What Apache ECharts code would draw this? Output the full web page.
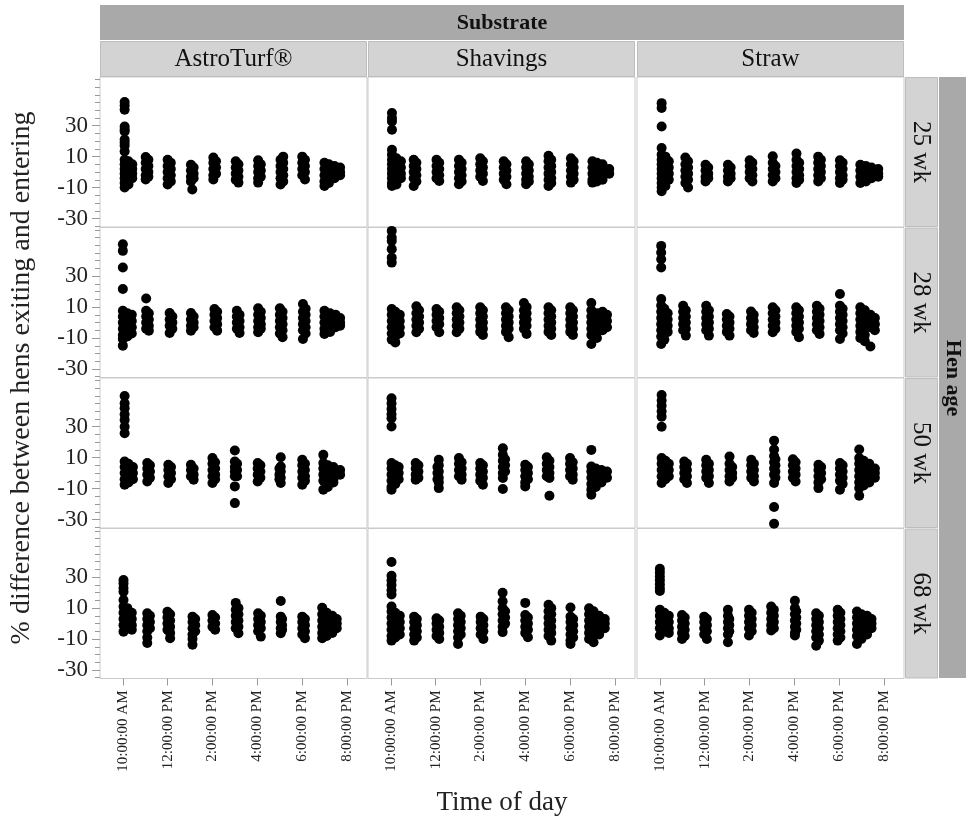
<!DOCTYPE html>
<html><head><meta charset="utf-8">
<script src="https://cdn.jsdelivr.net/npm/echarts@6/dist/echarts.min.js"></script>
<style>html,body{margin:0;padding:0;background:#fff}#c{width:966px;height:821px}</style>
</head><body><div id="c"></div>
<script>
const substrates = ['AstroTurf®', 'Shavings', 'Straw'];
const henAges = ['25 wk', '28 wk', '50 wk', '68 wk'];
const timeTicks = [10, 12, 14, 16, 18, 20];
const timeLabels = ['10:00:00 AM', '12:00:00 PM', '2:00:00 PM', '4:00:00 PM', '6:00:00 PM', '8:00:00 PM'];
const yLabelValues = [-30, -10, 10, 30];
const yMinorValues = [-35, -30, -25, -20, -15, -10, -5, 0, 5, 10, 15, 20, 25, 30, 35, 40, 45, 50, 55, 60];

// [time of day (hours), [% difference values]]
const astro25 = [
  [10.08, [45.3, 43, 40.3, 29.5, 27.5, 26.3, 21, 19, 17, 13.4, 8, 5, 2, -1, -4, -7, -10]],
  [10.25, [7, 4, 1, -2, -5, -8]], [10.42, [5, 2, -1, -4]],
  [11.02, [9.8, 6, 2, -2, -4.8]], [11.14, [8, 4, 0, -3]],
  [12.0, [8, 4, 0, -4, -8]], [12.14, [6, 2, -2, -6]],
  [13.04, [4.8, 1, -3, -6]], [13.16, [3, -1, -4]], [13.1, [-11.3]],
  [14.04, [9.4, 6, 2, -2, -4.8]], [14.16, [7, 3, -1]],
  [15.04, [7, 3, -1, -5]], [15.16, [5, 1, -3, -6.8]],
  [16.04, [7.7, 4, 0, -4, -6.8]], [16.16, [5, 1, -3]],
  [17.04, [8, 4, 0, -4, -8]], [17.16, [10, 6, 2, -2, -6]],
  [18.01, [10, 6, 2, -2]], [18.13, [8, 4, 0, -4.8]],
  [19.0, [6, 2, -2, -6, -9]], [19.2, [5, 1, -3, -7]], [19.45, [4, 0, -4]], [19.7, [3, 0, -2]]
];
const shav25 = [
  [10.05, [38.2, 35, 32.8, 27.4, 14.5, 11.3, 8, 5, 2, -1, -4, -7, -9]],
  [10.25, [9, 6, 3, 0, -3, -6, -8]], [10.45, [7, 3, -1, -4]],
  [11.02, [8, 4, 0, -4, -9]], [11.14, [6, 2, -2, -6]],
  [12.04, [8, 4, 0, -4]], [12.16, [6, 2, -2, -5.8]],
  [13.04, [8, 4, 0, -4, -7.8]], [13.16, [6, 2, -2, -6]],
  [13.99, [9, 5, 1, -3]], [14.11, [7, 3, -1, -5.8]],
  [15.04, [7, 3, -1, -5]], [15.16, [5, 1, -3, -7.8]],
  [16.04, [7, 3, -1, -5, -7.8]], [16.16, [5, 1, -3, -6]],
  [17.04, [10.6, 7, 3, -1, -5, -9]], [17.16, [8, 4, 0, -4, -7]],
  [18.04, [9, 5, 1, -3, -6.8]], [18.16, [7, 3, -1, -5]],
  [19.0, [7, 3, -1, -5, -6.8]], [19.2, [6, 2, -2, -6]], [19.45, [5, 1, -3, -5]], [19.75, [2, -1]]
];
const straw25 = [
  [10.08, [44.6, 41.4, 29.5, 15.6, 11.3, 8, 5, 2, -1, -4, -7, -10, -12.4]],
  [10.25, [10, 6, 2, -2, -6, -9]], [10.4, [7, 3, -1, -5]],
  [11.14, [9.4, 5, 1, -3, -7]], [11.26, [7, 3, -1, -5, -10]],
  [12.04, [4.8, 1, -3, -6]], [12.16, [3, -1, -4]],
  [13.04, [4.8, 1, -3, -6]], [13.16, [3, -1, -4]],
  [14.01, [7.7, 4, 0, -4]], [14.13, [6, 2, -2, -6]],
  [15.04, [10.2, 6, 2, -2, -6]], [15.16, [4, 0, -4]],
  [16.1, [12, 8, 4, 0, -4, -7]], [16.22, [6, 2, -2, -5]],
  [17.07, [10, 6, 2, -2, -6]], [17.19, [8, 4, 0, -4]],
  [18.04, [7.7, 4, 0, -4, -7]], [18.16, [6, 2, -2, -5]],
  [18.95, [4.8, 1, -3, -7]], [19.2, [4, 0, -4, -6]], [19.45, [3, -1, -4]], [19.75, [2, -1, -3]]
];
const astro28 = [
  [10.0, [50.7, 46.4, 35.6, 21.7, 7.7, 4, 0, -4, -8, -10.6, -14.9]],
  [10.2, [6, 2, -2, -6, -9]], [10.4, [5, 1, -3, -7]],
  [11.04, [15.6, 7.7, 4, 0, -4]], [11.16, [6, 2, -2, -5.2]],
  [12.09, [6.2, 2, -2, -6.7]], [12.21, [4, 0, -4]],
  [13.04, [6.2, 2, -2, -5.2]], [13.16, [4, 0, -3]],
  [14.09, [8.8, 5, 1, -3]], [14.21, [7, 3, -1, -5.2]],
  [15.09, [7.7, 4, 0, -4]], [15.21, [5, 1, -3, -6.7]],
  [16.04, [9.3, 5, 1, -3, -6.2]], [16.16, [7, 3, -1, -4]],
  [17.01, [9.3, 5, 1, -3, -7]], [17.13, [7, 3, -1, -5, -9.4]],
  [18.04, [12, 7, 3, -1, -5, -10.6]], [18.16, [9, 5, 1, -3, -7]],
  [19.0, [7.7, 4, 0, -4, -7.3]], [19.25, [6, 2, -2, -6]], [19.5, [5, 1, -3]], [19.7, [3, 0, -2]]
];
const shav28 = [
  [10.04, [59.3, 55, 52.8, 47.5, 42, 38.8, 8.8, 5, 1, -3, -7, -11]],
  [10.2, [7, 3, -1, -5, -9, -12.8]], [10.4, [5, 1, -3, -7]],
  [11.14, [10.5, 6, 2, -2, -6.2]], [11.26, [8, 4, 0, -4]],
  [12.04, [8.8, 5, 1, -3]], [12.16, [7, 3, -1, -6.2]],
  [12.94, [9.9, 6, 2, -2, -6.2]], [13.06, [8, 4, 0, -4]],
  [13.99, [9.9, 6, 2, -2, -6]], [14.11, [8, 4, 0, -4, -8]],
  [15.14, [9.9, 6, 2, -2, -6]], [15.26, [8, 4, 0, -4, -9.4]],
  [15.94, [12.7, 8, 4, 0, -4]], [16.06, [10, 6, 2, -2, -7.3]],
  [17.04, [9.9, 6, 2, -2, -6]], [17.16, [8, 4, 0, -4, -8]],
  [18.01, [9.9, 6, 2, -2, -6]], [18.13, [8, 4, 0, -4, -8]],
  [18.95, [12.7, 8, 4, 0, -4, -8, -13.8]], [19.2, [6, 2, -2, -6, -10]], [19.45, [7, 3, -1, -5]], [19.65, [5, 1, -3]]
];
const straw28 = [
  [10.06, [49.6, 45.3, 41, 35.6, 15.2, 11, 7, 3, -1, -5, -9, -13.8]],
  [10.2, [9, 5, 1, -3, -7, -11]], [10.35, [6, 2, -2, -6]],
  [11.04, [10.9, 7, 3, -1, -5]], [11.16, [8, 4, 0, -4, -8.4]],
  [12.07, [10.9, 7, 3, -1, -5]], [12.19, [8, 4, 0, -4, -8.4]],
  [12.99, [5.6, 2, -2, -6]], [13.11, [4, 0, -4, -8.4]],
  [14.07, [7.2, 3, -1, -5]], [14.19, [5, 1, -3, -6.7]],
  [15.04, [9.9, 6, 2, -2, -6.2]], [15.16, [8, 4, 0, -4]],
  [16.09, [9.9, 6, 2, -2, -6]], [16.21, [8, 4, 0, -4, -9.4]],
  [17.01, [10.9, 7, 3, -1, -5]], [17.13, [9, 5, 1, -3, -7.3]],
  [18.04, [18.5, 10.9, 7, 3, -1, -5, -10.6]], [18.16, [9, 5, 1, -3, -7]],
  [18.95, [9.9, 6, 2, -2, -6, -10]], [19.15, [8, 4, 0, -4, -8, -12]], [19.4, [5, 1, -3, -15.4]], [19.6, [3, -1, -5]]
];
const astro50 = [
  [10.08, [49.9, 45.2, 42, 38, 34.4, 30, 25.8, 7.5, 4, 0, -4, -7.5]],
  [10.25, [6, 2, -2, -6]], [10.45, [4, 0, -4]],
  [11.09, [6.5, 3, -1, -5.4]], [11.21, [5, 1, -3]],
  [12.03, [5.4, 2, -2, -6.4]], [12.15, [4, 0, -4]],
  [13.04, [5.4, 2, -2]], [13.16, [3, -1, -4.3]],
  [14.0, [9.7, 6, 2, -2, -6.4]], [14.12, [7, 3, -1, -4]],
  [15.0, [14.6, 7.5, 4, 1, -2, -8.6, -19.4]], [15.1, [6, 2, -2]],
  [16.02, [6.5, 3, -1, -5.4]], [16.14, [5, 1, -3]],
  [17.05, [10.3, 4.3, 1, -3, -6.4]], [16.99, [3, -1, -4]],
  [18.01, [8.6, 5, 1, -3, -7.5]], [18.13, [6, 2, -2, -5]],
  [18.95, [11.8, 6.5, 3, -1, -5, -10.7]], [19.15, [5, 1, -3, -7, -9]], [19.4, [4, 0, -4, -6]], [19.7, [2, -1]]
];
const shav50 = [
  [10.03, [48.4, 45, 41.5, 38, 35.5, 30.1, 6.5, 3, -1, -5, -9, -10.7]],
  [10.2, [5, 1, -3, -7]], [10.35, [4, 0, -4]],
  [11.11, [6.5, 3, -1, -4.3]], [11.23, [5, 1, -3]],
  [12.14, [8.6, 5, 1, -3, -6, -9.7]], [12.08, [4, 0, -4]],
  [13.04, [9.7, 6, 2, -2]], [13.16, [7, 3, -1, -4.3]],
  [13.99, [6.5, 3, -1, -5]], [14.11, [5, 1, -3, -7.5]],
  [15.0, [16.1, 11.8, 8, 4, 0, -3.2, -10.3]], [15.1, [9, 5, 1]],
  [16.0, [5.4, 2, -2, -6, -8.6]], [16.12, [4, 0, -4]],
  [16.96, [10.3, 6, 2, -2]], [17.08, [8, 4, 0, -3.2, -14.6]],
  [18.0, [9.7, 6, 2, -2]], [18.12, [7, 3, -1, -4.3]],
  [18.95, [15, 4.3, 1, -3, -7, -10.7, -14]], [19.15, [3, -1, -5, -9]], [19.4, [2, -2, -6]], [19.65, [1, -3]]
];
const straw50 = [
  [10.08, [50.5, 47, 43.5, 40, 36.5, 30, 9.7, 6, 2, -2, -6.4]],
  [10.25, [8, 4, 0, -4]], [10.4, [6, 2, -2]],
  [11.09, [7.5, 4, 0, -4]], [11.21, [6, 2, -2, -6.4]],
  [12.07, [8.6, 5, 1, -3]], [12.19, [6, 2, -2, -6.4]],
  [13.11, [10.7, 6, 2, -2, -5.4]], [13.23, [4, 0, -3]],
  [14.08, [8.6, 5, 1, -3]], [14.2, [6, 2, -2, -5.4]],
  [15.1, [21, 15.2, 11, 7, 3, -1, -6.4, -21.9, -32.7]], [15.16, [9, 5, 1, -3]],
  [15.94, [9, 5, 1, -3]], [16.06, [7, 3, -1, -5.4]],
  [17.08, [5.4, 2, -2, -6, -9.7]], [17.2, [4, 0, -4]],
  [18.04, [6.5, 3, -1, -5, -10.7]], [18.16, [5, 1, -3, -7]],
  [18.9, [15.3, 9.7, 6, 2, -2, -6, -9.7, -14.6]], [19.1, [8, 4, 0, -4, -8]], [19.35, [6, 2, -2, -6]], [19.6, [3, 0, -3]]
];
const astro68 = [
  [10.03, [28.2, 26, 23, 20.6, 15.3, 11, 7, 3, -1, -5.2]],
  [10.2, [10, 6, 2, -2]], [10.4, [7, 3, -1, -4]],
  [11.09, [6.7, 3, -1, -5, -9, -12.6]], [11.21, [5, 1, -3]],
  [11.99, [7.7, 4, 0, -4]], [12.11, [6, 2, -2, -6, -9.4]],
  [13.11, [4.5, 1, -3, -7, -10, -13.7]], [13.23, [3, -1, -5]],
  [14.0, [5.6, 2, -2]], [14.12, [4, 0, -3.9]],
  [15.04, [13.4, 9, 5, 1, -3]], [15.16, [10, 6, 2, -2, -6.2]],
  [16.04, [6.7, 3, -1, -5]], [16.16, [5, 1, -3, -8.4]],
  [17.05, [14.6, 4.5, 1, -3, -6.2]], [17.11, [3, -1, -4]],
  [18.01, [4.5, 1, -3, -7]], [18.13, [3, -1, -5, -9.4]],
  [18.9, [10.2, 6, 2, -2, -6, -9.4]], [19.1, [7, 3, -1, -5, -8]], [19.35, [5, 1, -3, -6]], [19.55, [3, 0, -3]]
];
const shav68 = [
  [10.03, [39.8, 31, 28, 25, 21.5, 18.8, 11.1, 7.8, 4, 0, -4, -8, -11]],
  [10.2, [7, 3, -1, -5, -9]], [10.4, [5, 1, -3, -7]],
  [11.04, [4.5, 1, -3, -7, -11]], [11.16, [3, -1, -5, -9]],
  [12.04, [3.4, 0, -4, -8]], [12.16, [2, -2, -6, -9.9]],
  [13.0, [6.7, 3, -1, -5, -9, -13.2]], [13.12, [5, 1, -3, -7]],
  [14.01, [4.5, 1, -3, -7]], [14.13, [3, -1, -5, -9.9]],
  [14.99, [19.9, 14.5, 10, 6, 2, -2, -5.5]], [15.1, [8, 4, 0]],
  [16.0, [13.4, 5.6, 2, -2, -6]], [16.12, [4, 0, -4, -8.8]],
  [17.04, [12.2, 8, 4, 0, -4, -8]], [17.16, [10, 6, 2, -2, -6, -11]],
  [18.02, [10.4, 4.5, 1, -3, -7, -11, -13.2]], [18.14, [3, -1, -5, -9]],
  [18.85, [9.9, 6, 2, -2, -6, -10]], [19.05, [8, 4, 0, -4, -8, -12.1]], [19.3, [5, 1, -3, -7]], [19.55, [3, 0, -3]]
];
const straw68 = [
  [10.0, [35.4, 33, 30.5, 28, 25.5, 23, 21.1, 8.9, 5, 1, -3, -7.7]],
  [10.2, [7, 3, -1, -5]], [10.4, [5, 1, -3, -6]],
  [10.99, [5.6, 2, -2, -6, -9.9]], [11.11, [4, 0, -4, -8]],
  [11.98, [4.5, 1, -3, -7]], [12.1, [3, -1, -5, -9.9]],
  [13.04, [8.9, 5, 1, -3, -7, -12.1]], [13.1, [3, -1, -5]],
  [13.98, [8.9, 5, 1, -3, -7.7]], [14.1, [7, 3, -1, -5]],
  [14.97, [11.1, 7, 3, -1, -4.4]], [15.09, [9, 5, 1, -3]],
  [16.03, [14.8, 10, 6, 2, -2, -6, -7.7]], [16.09, [8, 4, 0, -4]],
  [16.98, [6.7, 3, -1, -5, -9, -14.3]], [17.1, [5, 1, -3, -7, -11]],
  [17.94, [8.9, 5, 1, -3, -7, -11]], [18.06, [7, 3, -1, -5, -9]],
  [18.8, [7.8, 4, 0, -4, -8, -13.2]], [19.0, [6, 2, -2, -6, -10]], [19.25, [5, 1, -3, -7]], [19.45, [3, 0, -3]]
];

const panels = [
  [astro25, shav25, straw25],
  [astro28, shav28, straw28],
  [astro50, shav50, straw50],
  [astro68, shav68, straw68]
];

const FONT = '"Liberation Serif", "Times New Roman", serif';
const colLeft = [100, 368, 637];
const colW = 267;
const rowTop = [77, 227.5, 378, 528.5];
const rowH = 150;

const grids = [], xAxes = [], yAxes = [], series = [];
for (let r = 0; r < 4; r++) {
  for (let c = 0; c < 3; c++) {
    const gi = grids.length;
    grids.push({ left: colLeft[c], top: rowTop[r], width: colW, height: rowH,
      show: true, borderColor: '#cbcbcb', borderWidth: 1, backgroundColor: '#fff' });
    const bottom = r === 3;
    xAxes.push({ type: 'value', gridIndex: gi, min: 8.98, max: 20.9, position: 'bottom',
      axisLine: { show: false, onZero: false }, splitLine: { show: false },
      axisTick: { show: bottom, customValues: timeTicks, length: 7, lineStyle: { color: '#999' } },
      axisLabel: { show: bottom, customValues: timeTicks, rotate: 90, margin: 12,
        fontFamily: FONT, fontSize: 15, color: '#222',
        formatter: v => timeLabels[timeTicks.indexOf(v)] } });
    const left = c === 0;
    const yi = yAxes.length;
    yAxes.push({ type: 'value', gridIndex: gi, min: -35.5, max: 61.5, position: 'left',
      axisLine: { show: false, onZero: false }, splitLine: { show: false },
      axisTick: { show: left, customValues: yMinorValues, length: 5, lineStyle: { color: '#999' } },
      axisLabel: { show: left, customValues: yLabelValues, margin: 12,
        fontFamily: FONT, fontSize: 23, color: '#222' } });
    if (left) {
      yAxes.push({ type: 'value', gridIndex: gi, min: -35.5, max: 61.5, position: 'left',
        axisLine: { show: false, onZero: false }, splitLine: { show: false },
        axisTick: { show: true, customValues: yLabelValues, length: 8, lineStyle: { color: '#999' } },
        axisLabel: { show: false } });
    }
    const data = [];
    panels[r][c].forEach(([t, vals]) => vals.forEach(v => data.push([t, v])));
    series.push({ type: 'scatter', xAxisIndex: gi, yAxisIndex: yi, data,
      symbolSize: 10, itemStyle: { color: '#000', opacity: 1 }, clip: true, silent: true });
  }
}

const graphic = [];
graphic.push({ type: 'rect', shape: { x: 100, y: 5, width: 804, height: 35 }, style: { fill: '#a9a9a9' } });
graphic.push({ type: 'text', x: 502, y: 23, style: { text: 'Substrate', font: 'bold 22px ' + FONT,
  fill: '#111', textAlign: 'center', textVerticalAlign: 'middle', align: 'center', verticalAlign: 'middle' } });
substrates.forEach((s, c) => {
  graphic.push({ type: 'rect', shape: { x: colLeft[c] + 0.5, y: 41.5, width: colW - 1, height: 35 },
    style: { fill: '#d3d3d3', stroke: '#bdbdbd', lineWidth: 1 } });
  graphic.push({ type: 'text', x: colLeft[c] + colW / 2, y: 59, style: { text: s, font: '25px ' + FONT,
    fill: '#111', textAlign: 'center', textVerticalAlign: 'middle', align: 'center', verticalAlign: 'middle' } });
});
henAges.forEach((a, r) => {
  graphic.push({ type: 'rect', shape: { x: 905.5, y: rowTop[r] + 0.5, width: 32, height: rowH - 1 },
    style: { fill: '#d3d3d3', stroke: '#bdbdbd', lineWidth: 1 } });
  graphic.push({ type: 'text', x: 921, y: rowTop[r] + rowH / 2, rotation: -Math.PI / 2,
    style: { text: a, font: '25px ' + FONT, fill: '#111',
      textAlign: 'center', textVerticalAlign: 'middle', align: 'center', verticalAlign: 'middle' } });
});
graphic.push({ type: 'rect', shape: { x: 939, y: 77, width: 27, height: 601 }, style: { fill: '#a9a9a9' } });
graphic.push({ type: 'text', x: 953, y: 378, rotation: -Math.PI / 2, style: { text: 'Hen age',
  font: 'bold 22px ' + FONT, fill: '#111', textAlign: 'center', textVerticalAlign: 'middle', align: 'center', verticalAlign: 'middle' } });
graphic.push({ type: 'text', x: 22, y: 378, rotation: Math.PI / 2, style: {
  text: '% difference between hens exiting and entering', font: '28px ' + FONT, fill: '#222',
  textAlign: 'center', textVerticalAlign: 'middle', align: 'center', verticalAlign: 'middle' } });
graphic.push({ type: 'text', x: 502, y: 803, style: { text: 'Time of day', font: '27px ' + FONT, fill: '#222',
  textAlign: 'center', textVerticalAlign: 'middle', align: 'center', verticalAlign: 'middle' } });

const chart = echarts.init(document.getElementById('c'), null, { renderer: 'canvas' });
chart.setOption({
  animation: false,
  backgroundColor: '#fff',
  grid: grids, xAxis: xAxes, yAxis: yAxes, series,
  graphic: { elements: graphic }
});
</script>
</body></html>
